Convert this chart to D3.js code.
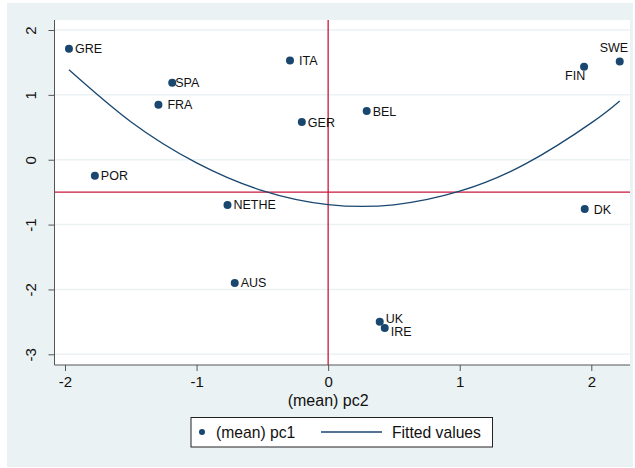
<!DOCTYPE html>
<html>
<head>
<meta charset="utf-8">
<script src="https://d3js.org/d3.v7.min.js"></script>
<style>
body { margin: 0; background: #fff; }
text { font-family: "Liberation Sans", Arial, sans-serif; fill: #111; }
.axis path, .axis line { stroke: #555; }
</style>
</head>
<body>
<svg width="635" height="468"></svg>
<script>

// country scores
var names = ["GRE","ITA","SPA","FRA","GER","POR","NETHE","BEL","FIN","SWE","DK","AUS","UK","IRE"];
var pc2 = [-1.97,-0.29,-1.185,-1.29,-0.20,-1.773,-0.765,0.293,1.945,2.216,1.95,-0.71,0.392,0.43];
var pc1 = [1.71,1.53,1.186,0.847,0.58,-0.247,-0.698,0.75,1.433,1.515,-0.76,-1.90,-2.50,-2.593];
// label clock position (3 = right, 12 = above, 7 = below left)
var labelPos = [3,3,3,3,3,3,3,3,7,12,3,3,3,3];

// fitted values
var fitX = [-1.97,-1.5,-1,-0.5,0,0.5,1,1.5,2,2.216];
var fitY = [1.387,0.586,-0.048,-0.476,-0.692,-0.695,-0.486,-0.065,0.568,0.907];

var xTicks = [-2,-1,0,1,2];
var yTicks = [-3,-2,-1,0,1,2];
var hRef = -0.5, vRef = 0;

var svg = d3.select("svg");
var navy = "#1a476f", red = "#c8193c";

svg.append("rect").attr("x",7).attr("y",3).attr("width",626).attr("height",464).attr("fill","#eaf2f3");

var margin = {top: 20, right: 5, bottom: 103, left: 54.5};

var x = d3.scaleLinear().domain([-2, 2]).range([65, 591.3]);
var y = d3.scaleLinear().domain([-3, 2]).range([354.3, 30]);

svg.append("rect")
  .attr("x", margin.left).attr("y", margin.top)
  .attr("width", 630 - margin.left).attr("height", 365 - margin.top)
  .attr("fill", "#fff");

// grid
svg.append("g").selectAll("line").data(yTicks).enter().append("line")
  .attr("x1", margin.left).attr("x2", 630)
  .attr("y1", function(d){ return y(d); }).attr("y2", function(d){ return y(d); })
  .attr("stroke", "#eaf2f3").attr("stroke-width", 1.5);

// reference lines
svg.append("line").attr("x1", margin.left).attr("x2", 630)
  .attr("y1", y(hRef)).attr("y2", y(hRef)).attr("stroke", red).attr("stroke-width", 1.3);
svg.append("line").attr("x1", x(vRef)).attr("x2", x(vRef))
  .attr("y1", margin.top).attr("y2", 365).attr("stroke", red).attr("stroke-width", 1.3);

// fitted curve
var pts = fitX.map(function(d,i){ return [d, fitY[i]]; });
svg.append("path").datum(pts)
  .attr("d", d3.line().x(function(d){ return x(d[0]); }).y(function(d){ return y(d[1]); }).curve(d3.curveNatural))
  .attr("fill", "none").attr("stroke", navy).attr("stroke-width", 1.3);

// points
var data = names.map(function(n,i){ return {name:n, x:pc2[i], y:pc1[i], pos:labelPos[i]}; });
svg.append("g").selectAll("circle").data(data).enter().append("circle")
  .attr("cx", function(d){ return x(d.x); }).attr("cy", function(d){ return y(d.y); })
  .attr("r", 4).attr("fill", navy);

svg.append("g").selectAll("text").data(data).enter().append("text")
  .attr("x", function(d){
    if (d.pos == 12) return x(d.x) - 20;
    if (d.pos == 7) return x(d.x) - 19;
    return x(d.x) + (d.name == "SPA" ? 3 : (d.name == "ITA" || d.name == "FRA" || d.name == "DK") ? 9 : 6);
  })
  .attr("y", function(d){
    var dy = 0;
    if (d.pos == 12) dy = -14;
    else if (d.pos == 7) dy = 9;
    else if (d.name == "UK") dy = -3;
    else if (d.name == "IRE") dy = 4;
    return y(d.y) + dy;
  })
  .attr("dy", "0.36em")
  .style("font-size", "12.5px")
  .text(function(d){ return d.name; });

var fmt = function(d){ return String(d); };

// axes
svg.append("g").attr("class", "axis")
  .attr("transform", "translate(0,365)")
  .call(d3.axisBottom(x).tickValues(xTicks).tickFormat(fmt).tickSize(6).tickPadding(5).tickSizeOuter(0))
  .call(function(g){ g.select(".domain").attr("d", "M" + margin.left + ",0H630"); })
  .selectAll("text").style("font-size", "15px").style("font-family", "Liberation Sans, Arial, sans-serif").attr("fill", "#111");

svg.append("g").attr("class", "axis")
  .attr("transform", "translate(" + margin.left + ",0)")
  .call(d3.axisLeft(y).tickValues(yTicks).tickFormat(fmt).tickSize(6).tickPadding(0).tickSizeOuter(0))
  .call(function(g){ g.select(".domain").attr("d", "M0," + margin.top + "V365"); })
  .selectAll("text")
  .style("font-size", "15px").style("font-family", "Liberation Sans, Arial, sans-serif").attr("fill", "#111")
  .attr("text-anchor", "middle").attr("x", 0).attr("dy", 0)
  .attr("transform", "translate(-19,0) rotate(-90)");

svg.append("text").attr("x", x(0)).attr("y", 406)
  .attr("text-anchor", "middle").style("font-size", "16px").text("(mean) pc2");

// legend
var lg = svg.append("g");
lg.append("rect").attr("x", 191).attr("y", 417.5).attr("width", 301.5).attr("height", 29.5)
  .attr("fill", "#fff").attr("stroke", "#222").attr("stroke-width", 1);
lg.append("circle").attr("cx", 202).attr("cy", 432).attr("r", 3).attr("fill", navy);
lg.append("text").attr("x", 216).attr("y", 432).attr("dy", "0.36em").style("font-size", "15.7px").text("(mean) pc1");
lg.append("line").attr("x1", 321).attr("x2", 382).attr("y1", 432).attr("y2", 432)
  .attr("stroke", navy).attr("stroke-width", 1.3);
lg.append("text").attr("x", 392).attr("y", 432).attr("dy", "0.36em").style("font-size", "15.7px").text("Fitted values");

</script>
</body>
</html>
